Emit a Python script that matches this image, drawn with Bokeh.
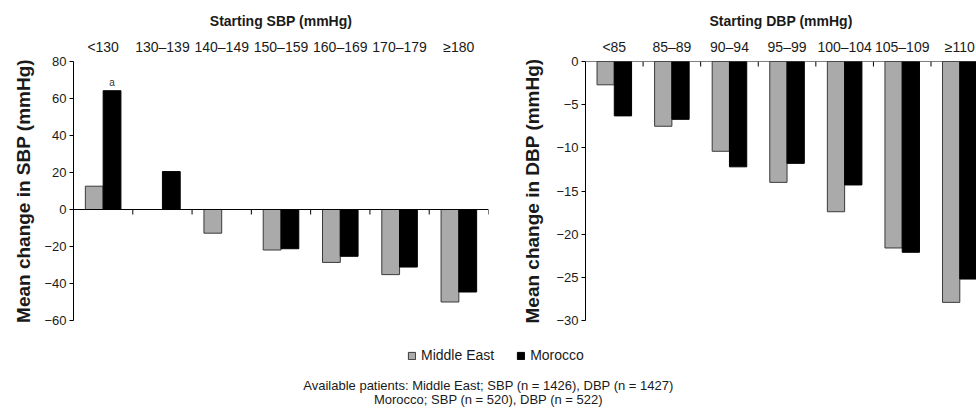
from bokeh.plotting import figure
from bokeh.models import (Range1d, LinearAxis, FixedTicker, Span, Legend, LegendItem,
                          Label, ColumnDataSource)
from bokeh.transform import dodge
from bokeh.layouts import column, row
from bokeh.embed import file_html
from bokeh.resources import INLINE
from bokeh.core.properties import value

NaN = float("nan")

# ---- data ----
sbp_groups = ["<130", "130–139", "140–149", "150–159", "160–169", "170–179", "≥180"]
sbp_middle_east = [12.6, NaN, -12.8, -21.9, -28.6, -35.2, -50.0]
sbp_morocco = [64.2, 20.5, NaN, -21.2, -25.3, -31.1, -44.6]
sbp_notes = ["a", "", "", "", "", "", ""]
sbp_ticks = [-60, -40, -20, 0, 20, 40, 60, 80]

dbp_groups = ["<85", "85–89", "90–94", "95–99", "100–104", "105–109", "≥110"]
dbp_middle_east = [-2.7, -7.5, -10.4, -14.0, -17.4, -21.6, -27.9]
dbp_morocco = [-6.3, -6.7, -12.2, -11.8, -14.3, -22.1, -25.2]
dbp_notes = ["", "", "", "", "", "", ""]
dbp_ticks = [-30, -25, -20, -15, -10, -5, 0]

series_names = ["Middle East", "Morocco"]
footnote = ["Available patients: Middle East; SBP (n = 1426), DBP (n = 1427)",
            "Morocco; SBP (n = 520), DBP (n = 522)"]

FONT = "Liberation Sans"
GRAY = "#aaaaaa"
GRAY_LINE = "#3a3a3a"
TXT = "#1a1a1a"


def panel(groups, me, mo, notes, yticks, ylabel, xtitle, width, border_left,
          border_right, x_end, ylabel_standoff):
    n = len(groups)
    border_top, frame_h, border_bottom = 61, 259, 10
    height = border_top + frame_h + border_bottom
    ymin, ymax = min(yticks), max(yticks)
    p = figure(width=width, height=height,
               x_range=Range1d(-0.5, x_end), y_range=Range1d(ymin, ymax),
               output_backend="svg", toolbar_location=None,
               x_axis_location=None, y_axis_location=None,
               min_border_left=border_left, min_border_right=border_right,
               min_border_top=border_top, min_border_bottom=border_bottom)
    p.outline_line_color = None
    p.grid.grid_line_color = None
    p.background_fill_color = "white"

    yaxis = LinearAxis(ticker=FixedTicker(ticks=yticks),
                       major_label_overrides={t: str(t).replace("-", "−") for t in yticks},
                       axis_label=ylabel)
    yaxis.axis_line_color = "black"
    yaxis.major_tick_line_color = "black"
    yaxis.major_tick_out = 4
    yaxis.major_tick_in = 0
    yaxis.minor_tick_line_color = None
    yaxis.major_label_standoff = 3
    yaxis.major_label_text_font = FONT
    yaxis.major_label_text_font_size = "13px"
    yaxis.major_label_text_color = TXT
    yaxis.axis_label_text_font = FONT
    yaxis.axis_label_text_font_size = "19px"
    yaxis.axis_label_text_font_style = "bold"
    yaxis.axis_label_text_color = TXT
    yaxis.axis_label_standoff = ylabel_standoff
    p.add_layout(yaxis, "left")

    top = LinearAxis(ticker=FixedTicker(ticks=list(range(n))),
                     major_label_overrides={i: g for i, g in enumerate(groups)},
                     axis_label=xtitle)
    top.axis_line_color = None
    top.major_tick_line_color = None
    top.minor_tick_line_color = None
    top.major_label_standoff = 1
    top.major_label_text_font = FONT
    top.major_label_text_font_size = "14px"
    top.major_label_text_color = TXT
    top.axis_label_text_font = FONT
    top.axis_label_text_font_size = "14px"
    top.axis_label_text_font_style = "bold"
    top.axis_label_text_color = TXT
    top.axis_label_standoff = 7
    p.add_layout(top, "above")

    src = ColumnDataSource(dict(x=list(range(n)), me=me, mo=mo, note=notes))
    p.vbar(x=dodge("x", -0.15, range=p.x_range), top="me", bottom=0, width=0.3,
           source=src, fill_color=GRAY, line_color=GRAY_LINE, line_width=1)
    p.vbar(x=dodge("x", 0.15, range=p.x_range), top="mo", bottom=0, width=0.3,
           source=src, fill_color="black", line_color="black", line_width=1)
    p.text(x=dodge("x", 0.15, range=p.x_range), y="mo", text="note", source=src,
           y_offset=-3, text_align="center", text_baseline="bottom",
           text_font=value(FONT), text_font_size="10px", text_color="#333333")

    p.add_layout(Span(location=0, dimension="width", line_color="black", line_width=1))
    bounds = [i + 0.5 for i in range(n)]
    tick_units = 5 * (ymax - ymin) / frame_h
    p.segment(x0=bounds, y0=[0] * n, x1=bounds, y1=[-tick_units] * n,
              line_color="black", line_width=1)
    return p


p1 = panel(sbp_groups, sbp_middle_east, sbp_morocco, sbp_notes, sbp_ticks,
           "Mean change in SBP (mmHg)", "Starting SBP (mmHg)",
           width=490, border_left=73, border_right=2, x_end=6.5, ylabel_standoff=7)
p2 = panel(dbp_groups, dbp_middle_east, dbp_morocco, dbp_notes, dbp_ticks,
           "Mean change in DBP (mmHg)", "Starting DBP (mmHg)",
           width=486, border_left=95, border_right=0, x_end=6.29, ylabel_standoff=10)

p3 = figure(width=976, height=80, x_range=Range1d(0, 976), y_range=Range1d(0, 80),
            output_backend="svg", toolbar_location=None,
            x_axis_location=None, y_axis_location=None,
            min_border_left=0, min_border_right=0, min_border_top=0, min_border_bottom=0)
p3.outline_line_color = None
p3.grid.grid_line_color = None
r_me = p3.vbar(x=[NaN], top=[NaN], width=1, fill_color=GRAY, line_color=GRAY_LINE)
r_mo = p3.vbar(x=[NaN], top=[NaN], width=1, fill_color="black", line_color="black")
legend = Legend(items=[LegendItem(label=series_names[0], renderers=[r_me]),
                       LegendItem(label=series_names[1], renderers=[r_mo])],
                orientation="horizontal", location=(407, 47),
                border_line_color=None, background_fill_alpha=0,
                label_text_font=FONT, label_text_font_size="14px", label_text_color=TXT,
                glyph_width=9, glyph_height=9, label_standoff=5, spacing=22,
                padding=0, margin=0)
p3.add_layout(legend)
for i, line in enumerate(footnote):
    p3.add_layout(Label(x=488, y=25 - 14 * i, x_units="screen", y_units="screen",
                        text=line, text_align="center", text_baseline="middle",
                        text_font=FONT, text_font_size="13px", text_color=TXT))

layout = column(row(p1, p2, spacing=0), p3, spacing=0)
open("out.html", "w").write(file_html(layout, INLINE))
